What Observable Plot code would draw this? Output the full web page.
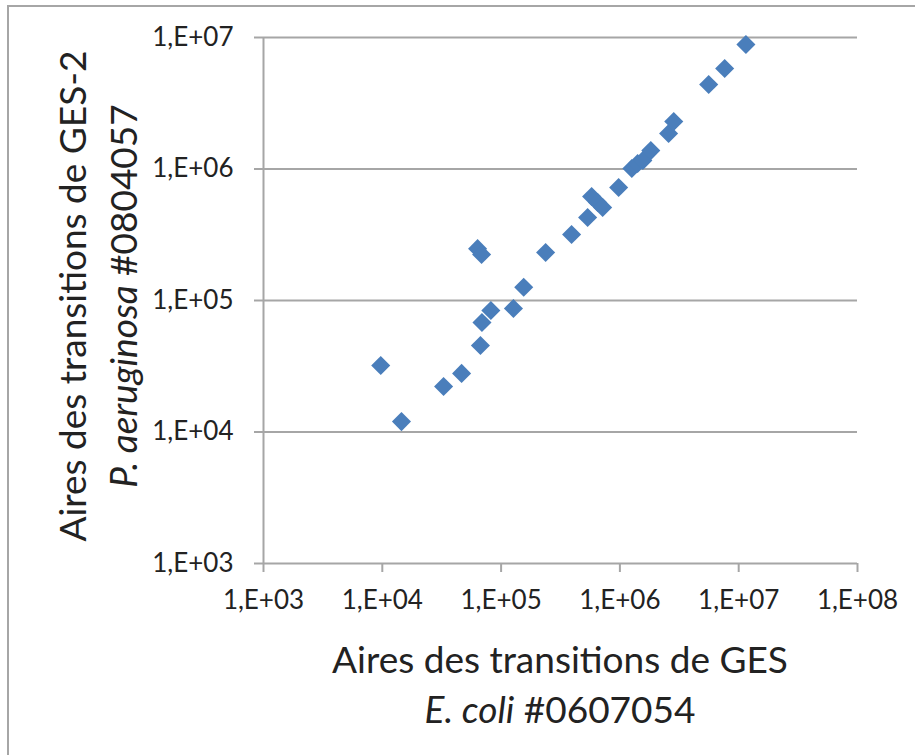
<!DOCTYPE html>
<html>
<head>
<meta charset="utf-8">
<script src="https://cdn.jsdelivr.net/npm/d3@7"></script>
<script src="https://cdn.jsdelivr.net/npm/@observablehq/plot@0.6"></script>
<style>
  html, body { margin: 0; padding: 0; background: #fff; }
  #chart svg { display: block; }
</style>
</head>
<body>
<div id="chart"></div>
<script>
// E. coli #0607054 areas (x)
const ecoli = [9.7e3, 1.45e4, 3.28e4, 4.65e4, 6.7e4, 6.9e4, 8.2e4, 6.34e4, 6.85e4, 1.27e5,
  1.55e5, 2.37e5, 3.92e5, 5.35e5, 5.78e5, 6.5e5, 7.16e5, 9.76e5, 1.26e6, 1.41e6,
  1.56e6, 1.82e6, 2.57e6, 2.84e6, 5.59e6, 7.62e6, 1.15e7];
// P. aeruginosa #0804057 areas (y)
const paeru = [3.2e4, 1.2e4, 2.22e4, 2.79e4, 4.55e4, 6.8e4, 8.4e4, 2.48e5, 2.24e5, 8.7e4,
  1.26e5, 2.32e5, 3.18e5, 4.28e5, 6.18e5, 5.56e5, 5.1e5, 7.23e5, 1.01e6, 1.1e6,
  1.16e6, 1.38e6, 1.86e6, 2.3e6, 4.39e6, 5.81e6, 8.85e6];
const xTicks = [1e3, 1e4, 1e5, 1e6, 1e7, 1e8];
const yTicks = [1e3, 1e4, 1e5, 1e6, 1e7];

const points = ecoli.map((x, i) => ({x, y: paeru[i]}));
const fmt = d => "1,E+" + String(Math.round(Math.log10(d))).padStart(2, "0");

const FONT = "Lato, 'Open Sans', sans-serif";
const gray = "#a6a6a6";
const tickFont = 26;

const plot = Plot.plot({
  width: 915,
  height: 755,
  marginLeft: 263,
  marginRight: 58,
  marginTop: 37,
  marginBottom: 192,
  style: {fontFamily: FONT, fontSize: tickFont + "px", color: "#222", background: "#fff"},
  x: {type: "log", domain: [1e3, 1e8]},
  y: {type: "log", domain: [1e3, 1e7]},
  marks: [
    Plot.ruleY(yTicks.slice(1), {stroke: gray, strokeWidth: 2}),
    Plot.ruleX([1e3], {stroke: gray, strokeWidth: 2}),
    Plot.ruleY([1e3], {stroke: gray, strokeWidth: 2}),
    Plot.axisY({ticks: yTicks, tickFormat: fmt, tickSize: 9, tickPadding: 21, stroke: gray, strokeWidth: 2, label: null, fontSize: tickFont, fill: "#222", strokeOpacity: 1}),
    Plot.axisX({ticks: xTicks, tickFormat: fmt, tickSize: 9, tickPadding: 18, stroke: gray, strokeWidth: 2, label: null, fontSize: tickFont, fill: "#222", strokeOpacity: 1}),
    Plot.dot(points, {x: "x", y: "y", symbol: "diamond2", r: 8.6, fill: "#4a7ebb", stroke: "none"})
  ]
});

document.getElementById("chart").appendChild(plot);

const svg = d3.select(plot);
// chart frame
svg.insert("rect", ":first-child")
  .attr("x", 8).attr("y", 6).attr("width", 960).attr("height", 800)
  .attr("fill", "none").attr("stroke", "#a6a6a6").attr("stroke-width", 2);

const tfont = 37;
// x-axis title
const xt = svg.append("g").attr("font-family", FONT).attr("font-size", tfont).attr("fill", "#222").attr("text-anchor", "middle");
xt.append("text").attr("x", 560).attr("y", 673).text("Aires des transitions de GES");
const xt2 = xt.append("text").attr("x", 560).attr("y", 723);
xt2.append("tspan").attr("font-style", "italic").text("E. coli");
xt2.append("tspan").text(" #0607054");

// y-axis title
const yt = svg.append("g").attr("font-family", FONT).attr("font-size", tfont).attr("fill", "#222").attr("text-anchor", "middle");
yt.append("text").attr("transform", "translate(86,296) rotate(-90)").text("Aires des transitions de GES-2");
const yt2 = yt.append("text").attr("transform", "translate(137,296) rotate(-90)");
yt2.append("tspan").attr("font-style", "italic").text("P. aeruginosa");
yt2.append("tspan").text(" #0804057");
</script>
</body>
</html>
